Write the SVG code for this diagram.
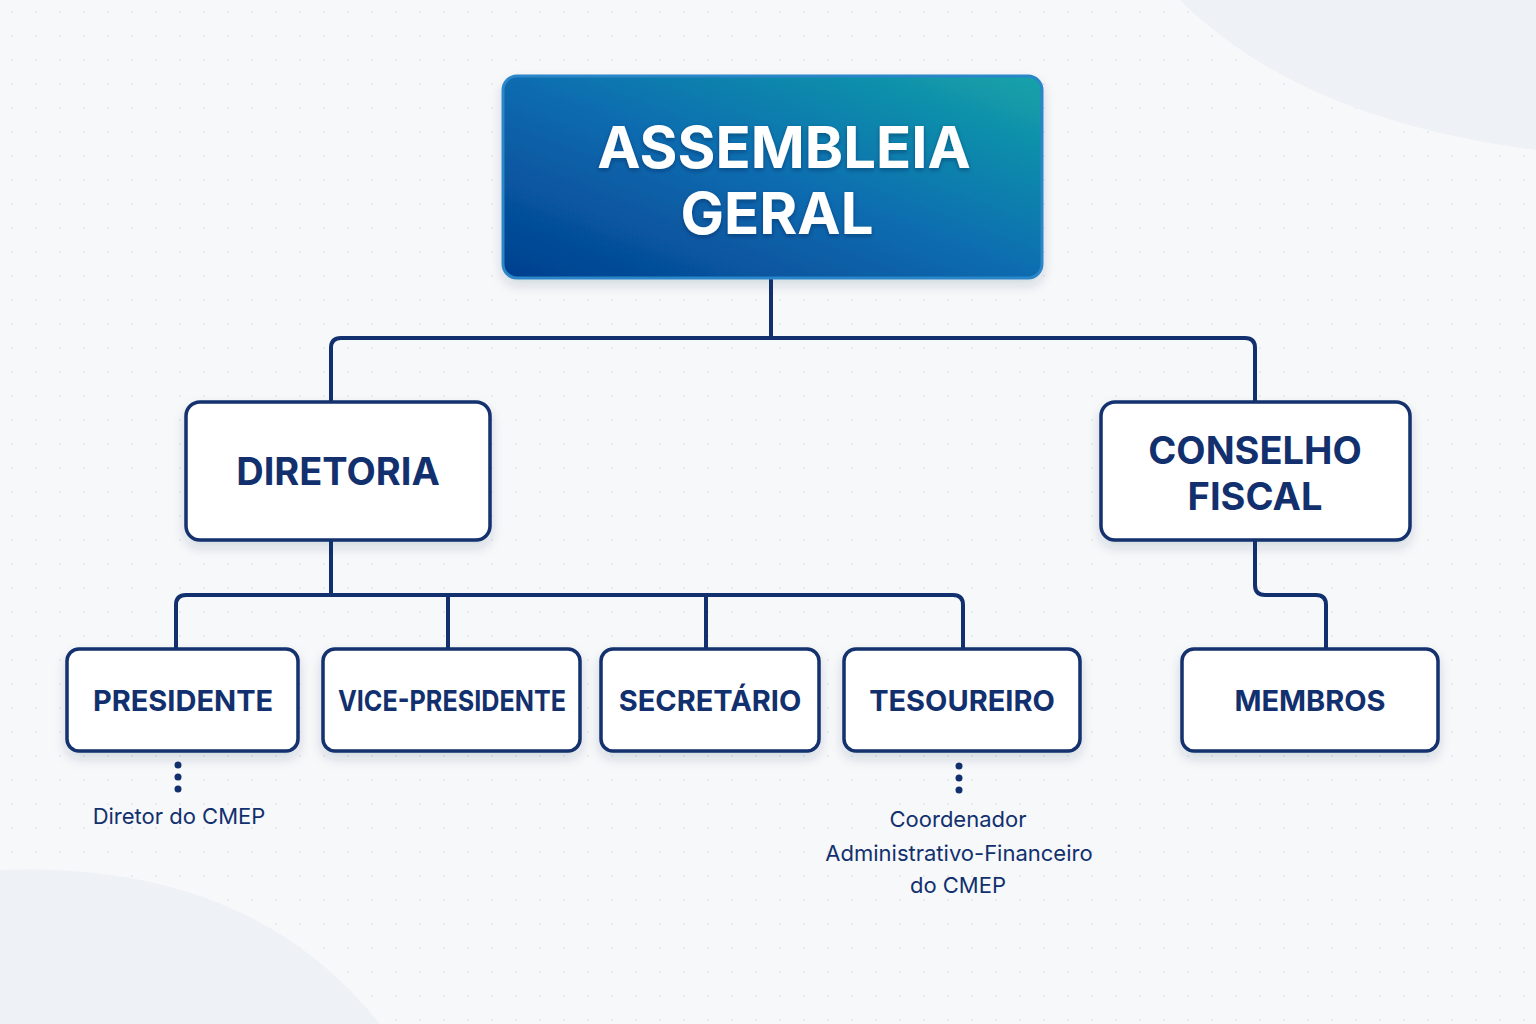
<svg xmlns="http://www.w3.org/2000/svg" width="1536" height="1024" viewBox="0 0 1536 1024">
<defs>
<pattern id="dots" width="24" height="24" patternUnits="userSpaceOnUse"><circle cx="12" cy="12" r="1" fill="#e3e6eb"/></pattern>
<linearGradient id="g" x1="0" y1="1" x2="1" y2="0"><stop offset="0" stop-color="#043f8f"/><stop offset="0.5" stop-color="#0a6cb0"/><stop offset="1" stop-color="#14a3a8"/></linearGradient>
<filter id="sh" x="-10%" y="-10%" width="120%" height="130%"><feDropShadow dx="0" dy="6" stdDeviation="6" flood-color="#1a2a4a" flood-opacity="0.15"/></filter>
<filter id="ts"><feDropShadow dx="0" dy="2" stdDeviation="2" flood-color="#001a40" flood-opacity="0.4"/></filter>
</defs>
<style>
.box{fill:#fff;stroke:#12306e;stroke-width:3.5}
.lbl{font-family:Inter,"Liberation Sans",sans-serif;font-weight:700;fill:#12306e;text-anchor:middle}
.sub{font-family:Inter,"Liberation Sans",sans-serif;font-size:22px;fill:#12306e;text-anchor:middle}
.ln{fill:none;stroke:#12306e;stroke-width:4;stroke-linejoin:round}
</style>
<rect width="1536" height="1024" fill="#f7f8fa"/>
<rect width="1536" height="1024" fill="url(#dots)"/>
<path d="M1180 0 Q1300 120 1536 150 L1536 0 Z" fill="#eef1f5"/>
<path d="M0 870 Q250 860 380 1024 L0 1024 Z" fill="#eef1f5"/>
<g id="connectors">
<path class="ln" d="M771 278 V338 M331 402 V348 Q331 338 341 338 H1245 Q1255 338 1255 348 V402"/>
<path class="ln" d="M331 540 V595 M176 649 V605 Q176 595 186 595 H953 Q963 595 963 605 V649 M448 595 V649 M706 595 V649"/>
<path class="ln" d="M1255 540 V585 Q1255 595 1265 595 H1316 Q1326 595 1326 605 V649"/>
<g fill="#12306e"><circle cx="178" cy="765" r="3.5"/><circle cx="178" cy="777" r="3.5"/><circle cx="178" cy="789" r="3.5"/><circle cx="959" cy="766" r="3.5"/><circle cx="959" cy="778" r="3.5"/><circle cx="959" cy="790" r="3.5"/></g>
</g>
<g id="assembleia"><rect x="503" y="76" width="539" height="202" rx="14" fill="url(#g)" stroke="#2a86c8" stroke-width="3" filter="url(#sh)"/>
<text class="lbl" x="784" y="168" font-size="58" fill="#fff" style="fill:#fff" filter="url(#ts)">ASSEMBLEIA</text>
<text class="lbl" x="777" y="234" font-size="58" style="fill:#fff" filter="url(#ts)">GERAL</text></g>
<g id="diretoria"><rect class="box" x="186" y="402" width="304" height="138" rx="14" filter="url(#sh)"/><text class="lbl" x="338" y="485" font-size="38">DIRETORIA</text></g>
<g id="conselho"><rect class="box" x="1101" y="402" width="309" height="138" rx="14" filter="url(#sh)"/><text class="lbl" x="1255" y="464" font-size="38">CONSELHO</text><text class="lbl" x="1255" y="510" font-size="38">FISCAL</text></g>
<g id="presidente"><rect class="box" x="67" y="649" width="231" height="102" rx="12" filter="url(#sh)"/><text class="lbl" x="183" y="711" font-size="29">PRESIDENTE</text></g>
<g id="vice"><rect class="box" x="323" y="649" width="257" height="102" rx="12" filter="url(#sh)"/><text class="lbl" x="452" y="711" font-size="29" textLength="228" lengthAdjust="spacingAndGlyphs">VICE-PRESIDENTE</text></g>
<g id="secretario"><rect class="box" x="601" y="649" width="218" height="102" rx="12" filter="url(#sh)"/><text class="lbl" x="710" y="711" font-size="29">SECRETÁRIO</text></g>
<g id="tesoureiro"><rect class="box" x="844" y="649" width="236" height="102" rx="12" filter="url(#sh)"/><text class="lbl" x="962" y="711" font-size="29">TESOUREIRO</text></g>
<g id="membros"><rect class="box" x="1182" y="649" width="256" height="102" rx="12" filter="url(#sh)"/><text class="lbl" x="1310" y="711" font-size="29">MEMBROS</text></g>
<g id="notes">
<text class="sub" x="179" y="824">Diretor do CMEP</text>
<text class="sub" x="958" y="827">Coordenador</text>
<text class="sub" x="959" y="861">Administrativo-Financeiro</text>
<text class="sub" x="958" y="893">do CMEP</text>
</g>
</svg>
